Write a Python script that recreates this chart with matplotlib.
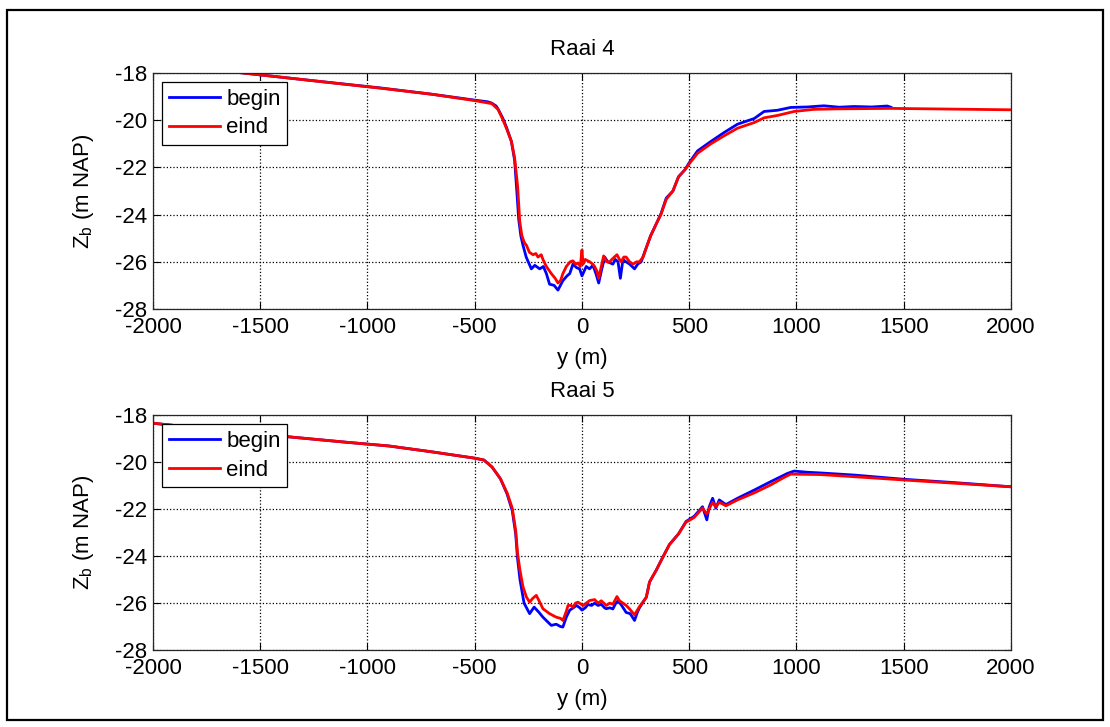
import matplotlib
matplotlib.use("Agg")
import matplotlib.pyplot as plt
from matplotlib.patches import Rectangle
import numpy as np

# Raai 4 - profiles (y in m, z in m NAP)
raai4_begin_y = [-1700, -1580, -1200, -943, -700, -500, -440, -422, -400, -391, -370, -352,
                 -329, -314, -303, -295, -285, -275, -260, -252, -236, -220, -197, -180,
                 -166, -151, -130, -112, -89, -70, -57, -42, -25, -11, 0, 10, 20, 35, 51,
                 65, 78, 90, 106, 120, 144, 155, 168, 179, 191, 205, 222, 245, 260, 276,
                 300, 320, 346, 368, 393, 424, 450, 480, 500, 539, 601, 663, 725, 803, 849,
                 911, 973, 1050, 1128, 1200, 1268, 1350, 1423, 1440]
raai4_begin_z = [-17.87, -18.0, -18.38, -18.63, -18.9, -19.15, -19.22, -19.27, -19.4, -19.53,
                 -19.9, -20.3, -20.9, -21.7, -23.1, -24.2, -24.9, -25.3, -25.8, -25.97,
                 -26.3, -26.15, -26.3, -26.2, -26.5, -26.95, -27.0, -27.2, -26.8, -26.6,
                 -26.5, -26.1, -26.25, -26.3, -26.6, -26.4, -26.2, -26.3, -26.15, -26.5,
                 -26.9, -26.4, -25.8, -26.0, -26.1, -25.9, -26.0, -26.7, -25.9, -26.0,
                 -26.1, -26.3, -26.1, -26.0, -25.4, -24.9, -24.4, -23.97, -23.3, -23.0,
                 -22.4, -22.1, -21.8, -21.3, -20.9, -20.52, -20.17, -19.93, -19.63, -19.58,
                 -19.46, -19.44, -19.39, -19.45, -19.42, -19.44, -19.4, -19.45]

raai4_eind_y = [-1700, -1580, -943, -700, -500, -420, -391, -370, -352, -329, -314, -300,
                -290, -280, -268, -259, -245, -228, -215, -205, -190, -182, -166, -143,
                -125, -112, -100, -89, -73, -55, -42, -30, -19, -8, 0, 5, 15, 36, 50, 59,
                70, 78, 90, 101, 115, 129, 145, 163, 175, 183, 195, 206, 222, 238, 255,
                268, 285, 300, 320, 346, 368, 393, 424, 450, 480, 500, 539, 601, 663, 725,
                803, 849, 911, 989, 1082, 1191, 1439, 2000, 2100]
raai4_eind_z = [-17.87, -18.0, -18.64, -18.9, -19.17, -19.3, -19.55, -19.95, -20.35, -20.9,
                -21.6, -22.8, -24.3, -24.9, -25.2, -25.3, -25.6, -25.7, -25.65, -25.8,
                -25.7, -25.9, -26.2, -26.5, -26.7, -26.9, -26.8, -26.5, -26.2, -26.0,
                -25.96, -26.1, -26.05, -26.2, -25.5, -26.1, -25.9, -26.0, -26.1, -26.2,
                -26.4, -26.7, -26.2, -25.75, -26.0, -26.0, -25.85, -25.7, -25.9, -26.0,
                -25.8, -25.8, -26.0, -26.1, -26.0, -26.0, -25.8, -25.4, -24.9, -24.4,
                -24.0, -23.35, -23.0, -22.4, -22.1, -21.85, -21.4, -21.0, -20.66, -20.34,
                -20.1, -19.9, -19.8, -19.63, -19.54, -19.52, -19.5, -19.56, -19.57]

# Raai 5
raai5_begin_y = [-2100, -2000, -1700, -1344, -1100, -900, -700, -500, -457, -419, -380, -349,
                 -325, -309, -301, -289, -270, -244, -223, -200, -182, -160, -143, -120,
                 -100, -89, -73, -57, -40, -26, -10, 0, 15, 28, 45, 59, 75, 90, 105, 113,
                 130, 144, 158, 168, 185, 206, 225, 245, 258, 268, 285, 300, 315, 346, 377,
                 408, 450, 485, 523, 562, 582, 593, 609, 624, 640, 671, 725, 803, 880, 958,
                 989, 1050, 1112, 1268, 1500, 1733, 2000]
raai5_begin_z = [-18.25, -18.33, -18.62, -18.93, -19.14, -19.3, -19.55, -19.82, -19.9, -20.2,
                 -20.7, -21.35, -22.06, -23.05, -24.04, -25.0, -26.0, -26.45, -26.17, -26.4,
                 -26.6, -26.8, -26.95, -26.9, -27.0, -27.02, -26.6, -26.3, -26.2, -26.1,
                 -26.2, -26.3, -26.2, -26.06, -26.1, -26.0, -26.1, -26.05, -26.2, -26.24,
                 -26.2, -26.25, -26.0, -25.9, -26.1, -26.4, -26.45, -26.74, -26.4, -26.2,
                 -25.95, -25.75, -25.1, -24.6, -24.04, -23.5, -23.05, -22.52, -22.3, -21.89,
                 -22.45, -21.9, -21.53, -21.95, -21.6, -21.8, -21.53, -21.18, -20.82, -20.47,
                 -20.37, -20.42, -20.45, -20.54, -20.72, -20.86, -21.04]

raai5_eind_y = [-2100, -2000, -1700, -1344, -1100, -900, -700, -500, -457, -419, -380, -349,
                -325, -309, -300, -289, -275, -259, -244, -230, -213, -200, -182, -151,
                -120, -100, -89, -73, -65, -50, -42, -30, -19, 5, 20, 36, 59, 75, 90, 113,
                130, 144, 163, 175, 191, 206, 222, 245, 268, 285, 300, 315, 346, 377, 408,
                450, 485, 523, 562, 582, 595, 609, 624, 640, 671, 725, 803, 880, 940, 973,
                1112, 1268, 1500, 2000]
raai5_eind_z = [-18.25, -18.33, -18.62, -18.93, -19.14, -19.3, -19.55, -19.82, -19.9, -20.2,
                -20.7, -21.3, -21.95, -22.9, -23.9, -24.6, -25.3, -25.74, -25.96, -25.8,
                -25.67, -25.9, -26.24, -26.45, -26.6, -26.65, -26.74, -26.35, -26.1, -26.1,
                -26.18, -26.0, -25.96, -26.1, -26.0, -25.89, -25.85, -26.0, -25.9, -26.1,
                -26.0, -26.05, -25.72, -25.9, -26.0, -26.1, -26.25, -26.5, -26.15, -25.95,
                -25.75, -25.1, -24.6, -24.04, -23.5, -23.05, -22.55, -22.35, -21.95, -22.2,
                -21.95, -21.7, -21.9, -21.7, -21.85, -21.6, -21.3, -20.96, -20.65, -20.5,
                -20.52, -20.61, -20.75, -21.04]

titles = ["Raai 4", "Raai 5"]
x_ticks = np.arange(-2000, 2001, 500)
y_ticks = np.arange(-28, -17, 2)

plt.rcParams['font.family'] = ['Liberation Sans', 'DejaVu Sans']
plt.rcParams['font.size'] = 16
plt.rcParams['mathtext.default'] = 'regular'
plt.rcParams['axes.unicode_minus'] = False

fig = plt.figure(figsize=(11.1, 7.27), dpi=100)

# figure border
fig.add_artist(Rectangle((7 / 1110, 1 - 720 / 727), 1096 / 1110, 710 / 727,
                         transform=fig.transFigure, fill=False, lw=1.6, ec='k'))

positions = [[0.1378, 0.575, 0.7730, 0.3246],
             [0.1378, 0.1059, 0.7730, 0.3226]]
profiles = [(raai4_begin_y, raai4_begin_z, raai4_eind_y, raai4_eind_z),
            (raai5_begin_y, raai5_begin_z, raai5_eind_y, raai5_eind_z)]

for pos, title, (by, bz, ey, ez) in zip(positions, titles, profiles):
    ax = fig.add_axes(pos)
    ax.plot(by, bz, color=(0, 0, 1), lw=2, label='begin')
    ax.plot(ey, ez, color=(1, 0, 0), lw=2, label='eind')

    ax.set_xlim(-2000, 2000)
    ax.set_ylim(-28, -18)
    ax.set_xticks(x_ticks)
    ax.set_yticks(y_ticks)

    # matlab look: inward ticks on all sides, dotted grid
    ax.tick_params(direction='in', top=True, right=True, length=5, width=0.8, pad=4)
    ax.tick_params(axis='x', pad=6)
    ax.grid(True, linestyle=':', color='k', lw=0.9)
    for s in ax.spines.values():
        s.set_color('#262626')
        s.set_linewidth(0.9)

    ax.set_title(title, fontsize=16, pad=13)
    ax.set_xlabel('y (m)', labelpad=7)
    ax.set_ylabel('Z$_b$ (m NAP)', labelpad=14)

    leg = ax.legend(loc='upper left', fancybox=False, framealpha=1, edgecolor='k',
                    borderaxespad=0.4, handlelength=2.3, handletextpad=0.3,
                    borderpad=0.3, labelspacing=0.35)
    leg.get_frame().set_linewidth(0.9)

fig.savefig('out.png', dpi=100)
